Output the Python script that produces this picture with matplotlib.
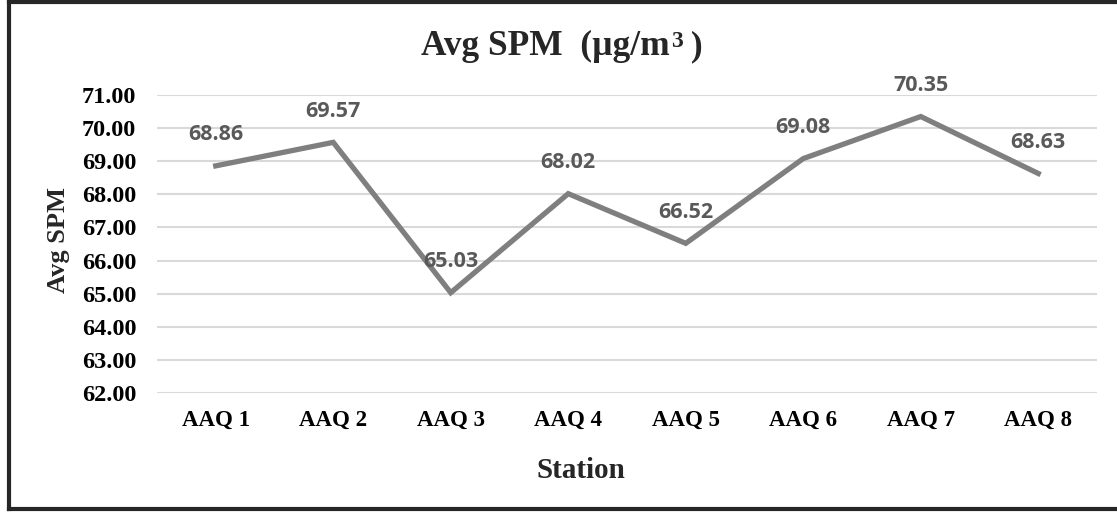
import matplotlib
matplotlib.use("Agg")
import matplotlib.pyplot as plt
from matplotlib.lines import Line2D

stations = ["AAQ 1", "AAQ 2", "AAQ 3", "AAQ 4", "AAQ 5", "AAQ 6", "AAQ 7", "AAQ 8"]
avg_spm = [68.86, 69.57, 65.03, 68.02, 66.52, 69.08, 70.35, 68.63]
y_ticks = [62, 63, 64, 65, 66, 67, 68, 69, 70, 71]

W, H = 1117, 512
fig = plt.figure(figsize=(W / 100, H / 100), dpi=100)
ax = fig.add_axes([157 / W, 1 - 393 / H, (1097 - 157) / W, (393 - 95) / H])

x = list(range(len(stations)))
ax.plot(x, avg_spm, color="#7f7f7f", lw=3.8, solid_joinstyle="miter", zorder=3)
for xi, v in zip(x, avg_spm):
    ax.annotate(f"{v:.2f}", (xi, v), xytext=(0, 22.5), textcoords="offset points",
                ha="center", va="center", fontsize=15.5, fontweight="bold",
                family="Open Sans", color="#595959", zorder=4)

ax.set_xlim(-0.5, len(stations) - 0.5)
ax.set_ylim(62, 71)
ax.set_yticks(y_ticks)
ax.set_yticklabels([f"{t:.2f}" for t in y_ticks])
ax.set_xticks(x)
ax.set_xticklabels(stations)
for lab in ax.get_yticklabels():
    lab.set_fontfamily("Liberation Serif")
    lab.set_fontweight("bold")
    lab.set_fontsize(17.5)
    lab.set_color("black")
for lab in ax.get_xticklabels():
    lab.set_fontfamily("Liberation Serif")
    lab.set_fontweight("bold")
    lab.set_fontsize(16.5)
    lab.set_color("black")
ax.tick_params(axis="y", length=0, pad=15)
ax.tick_params(axis="x", length=0, pad=12)
ax.grid(axis="y", color="#d9d9d9", lw=1.5, zorder=0)
for s in ax.spines.values():
    s.set_visible(False)

# title in pieces to get a large, slightly raised superscript
tkw = dict(fontweight="bold", family="Liberation Serif", color="#262626", va="baseline")
renderer = fig.canvas.get_renderer()
base_y = 1 - 55 / H
t1 = fig.text(0, base_y, "Avg SPM  (µg/m", fontsize=25.5, ha="left", **tkw)
t2 = fig.text(0, base_y, "3", fontsize=17, ha="left", **tkw)
t3 = fig.text(0, base_y, " )", fontsize=25.5, ha="left", **tkw)
w1 = t1.get_window_extent(renderer).width
w2 = t2.get_window_extent(renderer).width
w3 = t3.get_window_extent(renderer).width
total = w1 + w2 + w3
x0 = 562 - total / 2
t1.set_x(x0 / W)
t2.set_x((x0 + w1 + 1) / W)
t2.set_y(base_y + 8 / H)
t3.set_x((x0 + w1 + w2) / W)

fig.text(581 / W, 1 - 470 / H, "Station", ha="center", va="center",
         fontsize=21, fontweight="bold", family="Liberation Serif", color="#262626")
fig.text(58 / W, 1 - 240 / H, "Avg SPM", ha="center", va="center", rotation=90,
         fontsize=19, fontweight="bold", family="Liberation Serif", color="#262626")

c = "#262626"
lw = 3.0
fig.add_artist(Line2D([9 / W, 9 / W], [1 - 1.5 / H, 1 - 509 / H], color=c, lw=lw, transform=fig.transFigure))
fig.add_artist(Line2D([9 / W, 1.0], [1 - 1.5 / H, 1 - 1.5 / H], color=c, lw=lw, transform=fig.transFigure))
fig.add_artist(Line2D([9 / W, 1.0], [1 - 509 / H, 1 - 509 / H], color=c, lw=lw, transform=fig.transFigure))

fig.savefig("out.png", dpi=100)
